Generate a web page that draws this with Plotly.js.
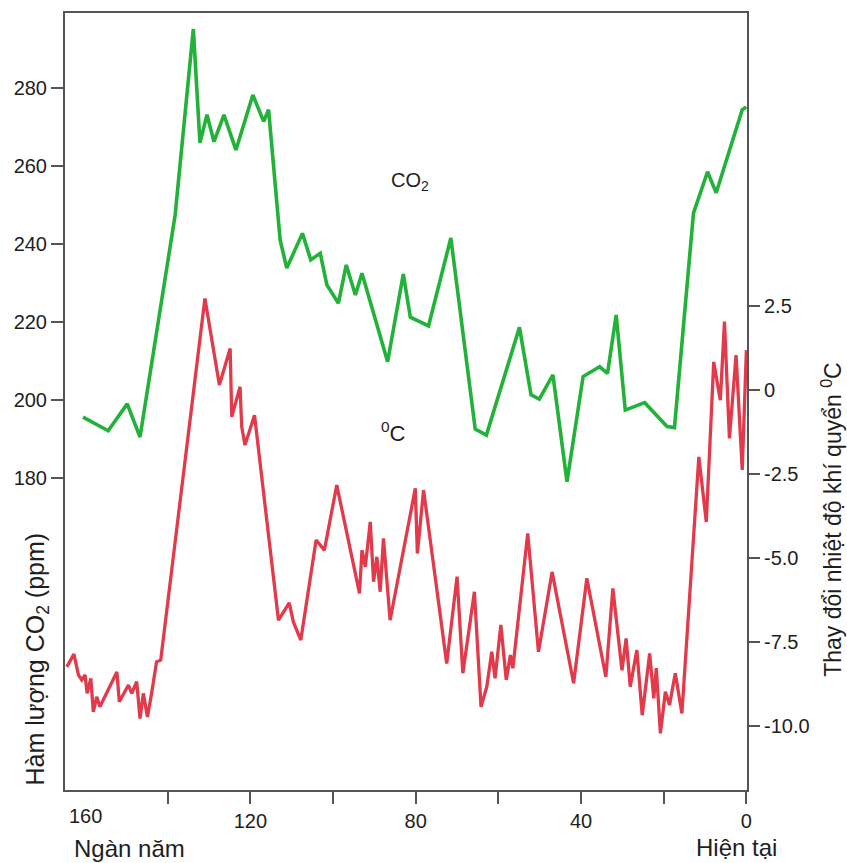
<!DOCTYPE html>
<html>
<head>
<meta charset="utf-8">
<script src="https://cdn.plot.ly/plotly-3.0.1.min.js"></script>
<style>html,body{margin:0;padding:0;background:#fff;}#chart{width:847px;height:863px;}</style>
</head>
<body>
<div id="chart"></div>
<script>
// Thousand years before present
const co2Years = [160.5,154.4,149.8,146.7,138.2,133.8,132.2,130.5,128.8,126.4,123.5,119.4,116.8,115.6,112.8,111.2,107.4,105.4,103.1,101.5,98.7,96.8,94.6,93.0,86.8,83.0,81.3,76.9,71.5,65.6,62.9,54.9,52.1,50.1,46.8,43.4,39.5,35.5,33.6,31.5,29.3,24.6,19.2,17.4,12.8,9.4,7.3,1.0,0];
const co2Ppm   = [195.6,192.1,199,190.5,247.4,295.1,265.9,273.1,266.2,273.1,264.1,278.2,271.4,274.4,241,233.8,242.7,235.9,237.6,229.5,224.8,234.6,226.9,232.5,209.8,232.3,221.2,219,241.5,192.5,191,218.6,201.3,200.2,206.4,179,206,208.5,206.8,221.8,197.4,199.3,193.2,192.9,247.9,258.5,253.1,274.4,275.1];

const tempYears = [164.4,162.7,161.6,160.8,160.0,159.5,158.6,158.0,157.2,156.4,152.3,151.7,149.5,148.7,147.5,146.7,145.9,144.9,143.9,142.7,141.7,131.0,127.5,124.9,124.5,122.5,122.1,121.3,119.0,113.2,110.6,109.6,107.8,104.1,102.1,99.1,93.6,93.0,92.2,91.0,90.2,89.4,88.6,87.8,86.2,80.1,79.6,78.1,72.5,70.0,68.6,65.8,64.2,62.8,61.6,60.8,59.4,58.1,57.1,56.5,52.9,50.3,47.0,41.8,38.6,34.0,32.3,30.1,29.1,28.1,26.5,25.2,23.4,22.4,21.8,20.8,19.6,18.6,17.2,15.6,11.5,9.7,7.9,6.3,5.3,4.1,2.5,1.0,0];
const tempC     = [-8.25,-7.87,-8.49,-8.64,-8.49,-9.04,-8.59,-9.59,-9.14,-9.44,-8.40,-9.29,-8.79,-9.04,-8.69,-9.79,-9.04,-9.74,-9.04,-8.10,-8.05,2.73,0.15,1.24,-0.80,0.10,-1.09,-1.64,-0.75,-6.86,-6.34,-6.91,-7.45,-4.47,-4.77,-2.83,-6.06,-4.77,-5.27,-3.93,-5.71,-4.97,-6.01,-4.42,-6.86,-2.93,-4.87,-2.98,-8.15,-5.56,-8.44,-6.01,-9.44,-8.84,-7.80,-8.59,-7.00,-8.64,-7.90,-8.29,-4.27,-7.80,-5.42,-8.74,-5.61,-8.55,-5.91,-8.35,-7.40,-8.84,-7.75,-9.69,-7.85,-9.19,-8.29,-10.23,-8.99,-9.39,-8.44,-9.64,-1.99,-3.93,0.84,-0.30,2.04,-1.44,1.04,-2.38,1.19];

const xTickVals  = [140,120,100,80,60,40,20,0];
const xTickText  = ['', '120', '', '80', '', '40', '', '0'];
const co2TickVals = [180,200,220,240,260,280];
const tempTickVals = [2.5,0,-2.5,-5,-7.5,-10];
const tempTickText = ['2.5','0','-2.5','-5.0','-7.5','-10.0'];

const FONT = 'Liberation Sans, Arial, sans-serif';
const INK = '#1e1e1e';
const AX = '#555555';

const traces = [
  {x: co2Years, y: co2Ppm, type: 'scatter', mode: 'lines', name: 'CO2',
   line: {color: '#22b23a', width: 3.6}, yaxis: 'y', hoverinfo: 'skip'},
  {x: tempYears, y: tempC, type: 'scatter', mode: 'lines', name: 'T',
   line: {color: '#e23a4b', width: 3.3}, yaxis: 'y2', hoverinfo: 'skip'}
];

const layout = {
  width: 847, height: 863,
  margin: {l: 65, r: 100, t: 13, b: 73},
  paper_bgcolor: '#ffffff', plot_bgcolor: '#ffffff',
  showlegend: false,
  font: {family: FONT, size: 20, color: INK},
  xaxis: {
    range: [164.85, -0.15], showgrid: false, zeroline: false,
    showline: true, linecolor: AX, linewidth: 2, mirror: true,
    ticks: 'outside', ticklen: 12, tickwidth: 2, tickcolor: AX,
    tickmode: 'array', tickvals: xTickVals, ticktext: xTickText,
    tickfont: {family: FONT, size: 20, color: INK}
  },
  yaxis: {
    range: [100, 299.2], showgrid: false, zeroline: false,
    showline: true, linecolor: AX, linewidth: 2,
    ticks: 'outside', ticklen: 12, tickwidth: 2, tickcolor: AX,
    tickmode: 'array', tickvals: co2TickVals,
    tickfont: {family: FONT, size: 20, color: INK}
  },
  yaxis2: {
    range: [-11.92, 11.24], overlaying: 'y', side: 'right',
    showgrid: false, zeroline: false,
    showline: true, linecolor: AX, linewidth: 2,
    ticks: 'outside', ticklen: 11, tickwidth: 2, tickcolor: AX,
    tickmode: 'array', tickvals: tempTickVals, ticktext: tempTickText,
    tickfont: {family: FONT, size: 20, color: INK}
  },
  annotations: [
    {text: '160', xref: 'x', yref: 'paper', x: 160, y: 0, yanchor: 'middle', xanchor: 'center', yshift: -26, showarrow: false, font: {family: FONT, size: 20, color: INK}},
    {text: 'Ngàn năm', xref: 'paper', yref: 'paper', x: 0.0103, y: -0.0759, xanchor: 'left', yanchor: 'middle', showarrow: false, font: {family: FONT, size: 24, color: INK}},
    {text: 'Hiện tại', xref: 'paper', yref: 'paper', x: 0.9853, y: -0.0746, xanchor: 'center', yanchor: 'middle', showarrow: false, font: {family: FONT, size: 24, color: INK}},
    {text: 'Hàm lượng CO<sub>2</sub> (ppm)', xref: 'paper', yref: 'paper', x: -0.041, y: 0.168, xanchor: 'center', yanchor: 'middle', textangle: -90, showarrow: false, font: {family: FONT, size: 25, color: INK}},
    {text: 'Thay đổi nhiệt độ khí quyển <sup>0</sup>C', xref: 'paper', yref: 'paper', x: 1.1235, y: 0.348, xanchor: 'center', yanchor: 'middle', textangle: -90, showarrow: false, font: {family: FONT, size: 23, color: INK}},
    {text: 'CO<sub>2</sub>', xref: 'paper', yref: 'paper', x: 0.5059, y: 0.7825, xanchor: 'center', yanchor: 'middle', showarrow: false, font: {family: FONT, size: 20, color: INK}},
    {text: '<sup>0</sup>C', xref: 'paper', yref: 'paper', x: 0.481, y: 0.4607, xanchor: 'center', yanchor: 'middle', showarrow: false, font: {family: FONT, size: 22, color: INK}}
  ]
};

Plotly.newPlot('chart', traces, layout, {displayModeBar: false, staticPlot: true});
</script>
</body>
</html>
